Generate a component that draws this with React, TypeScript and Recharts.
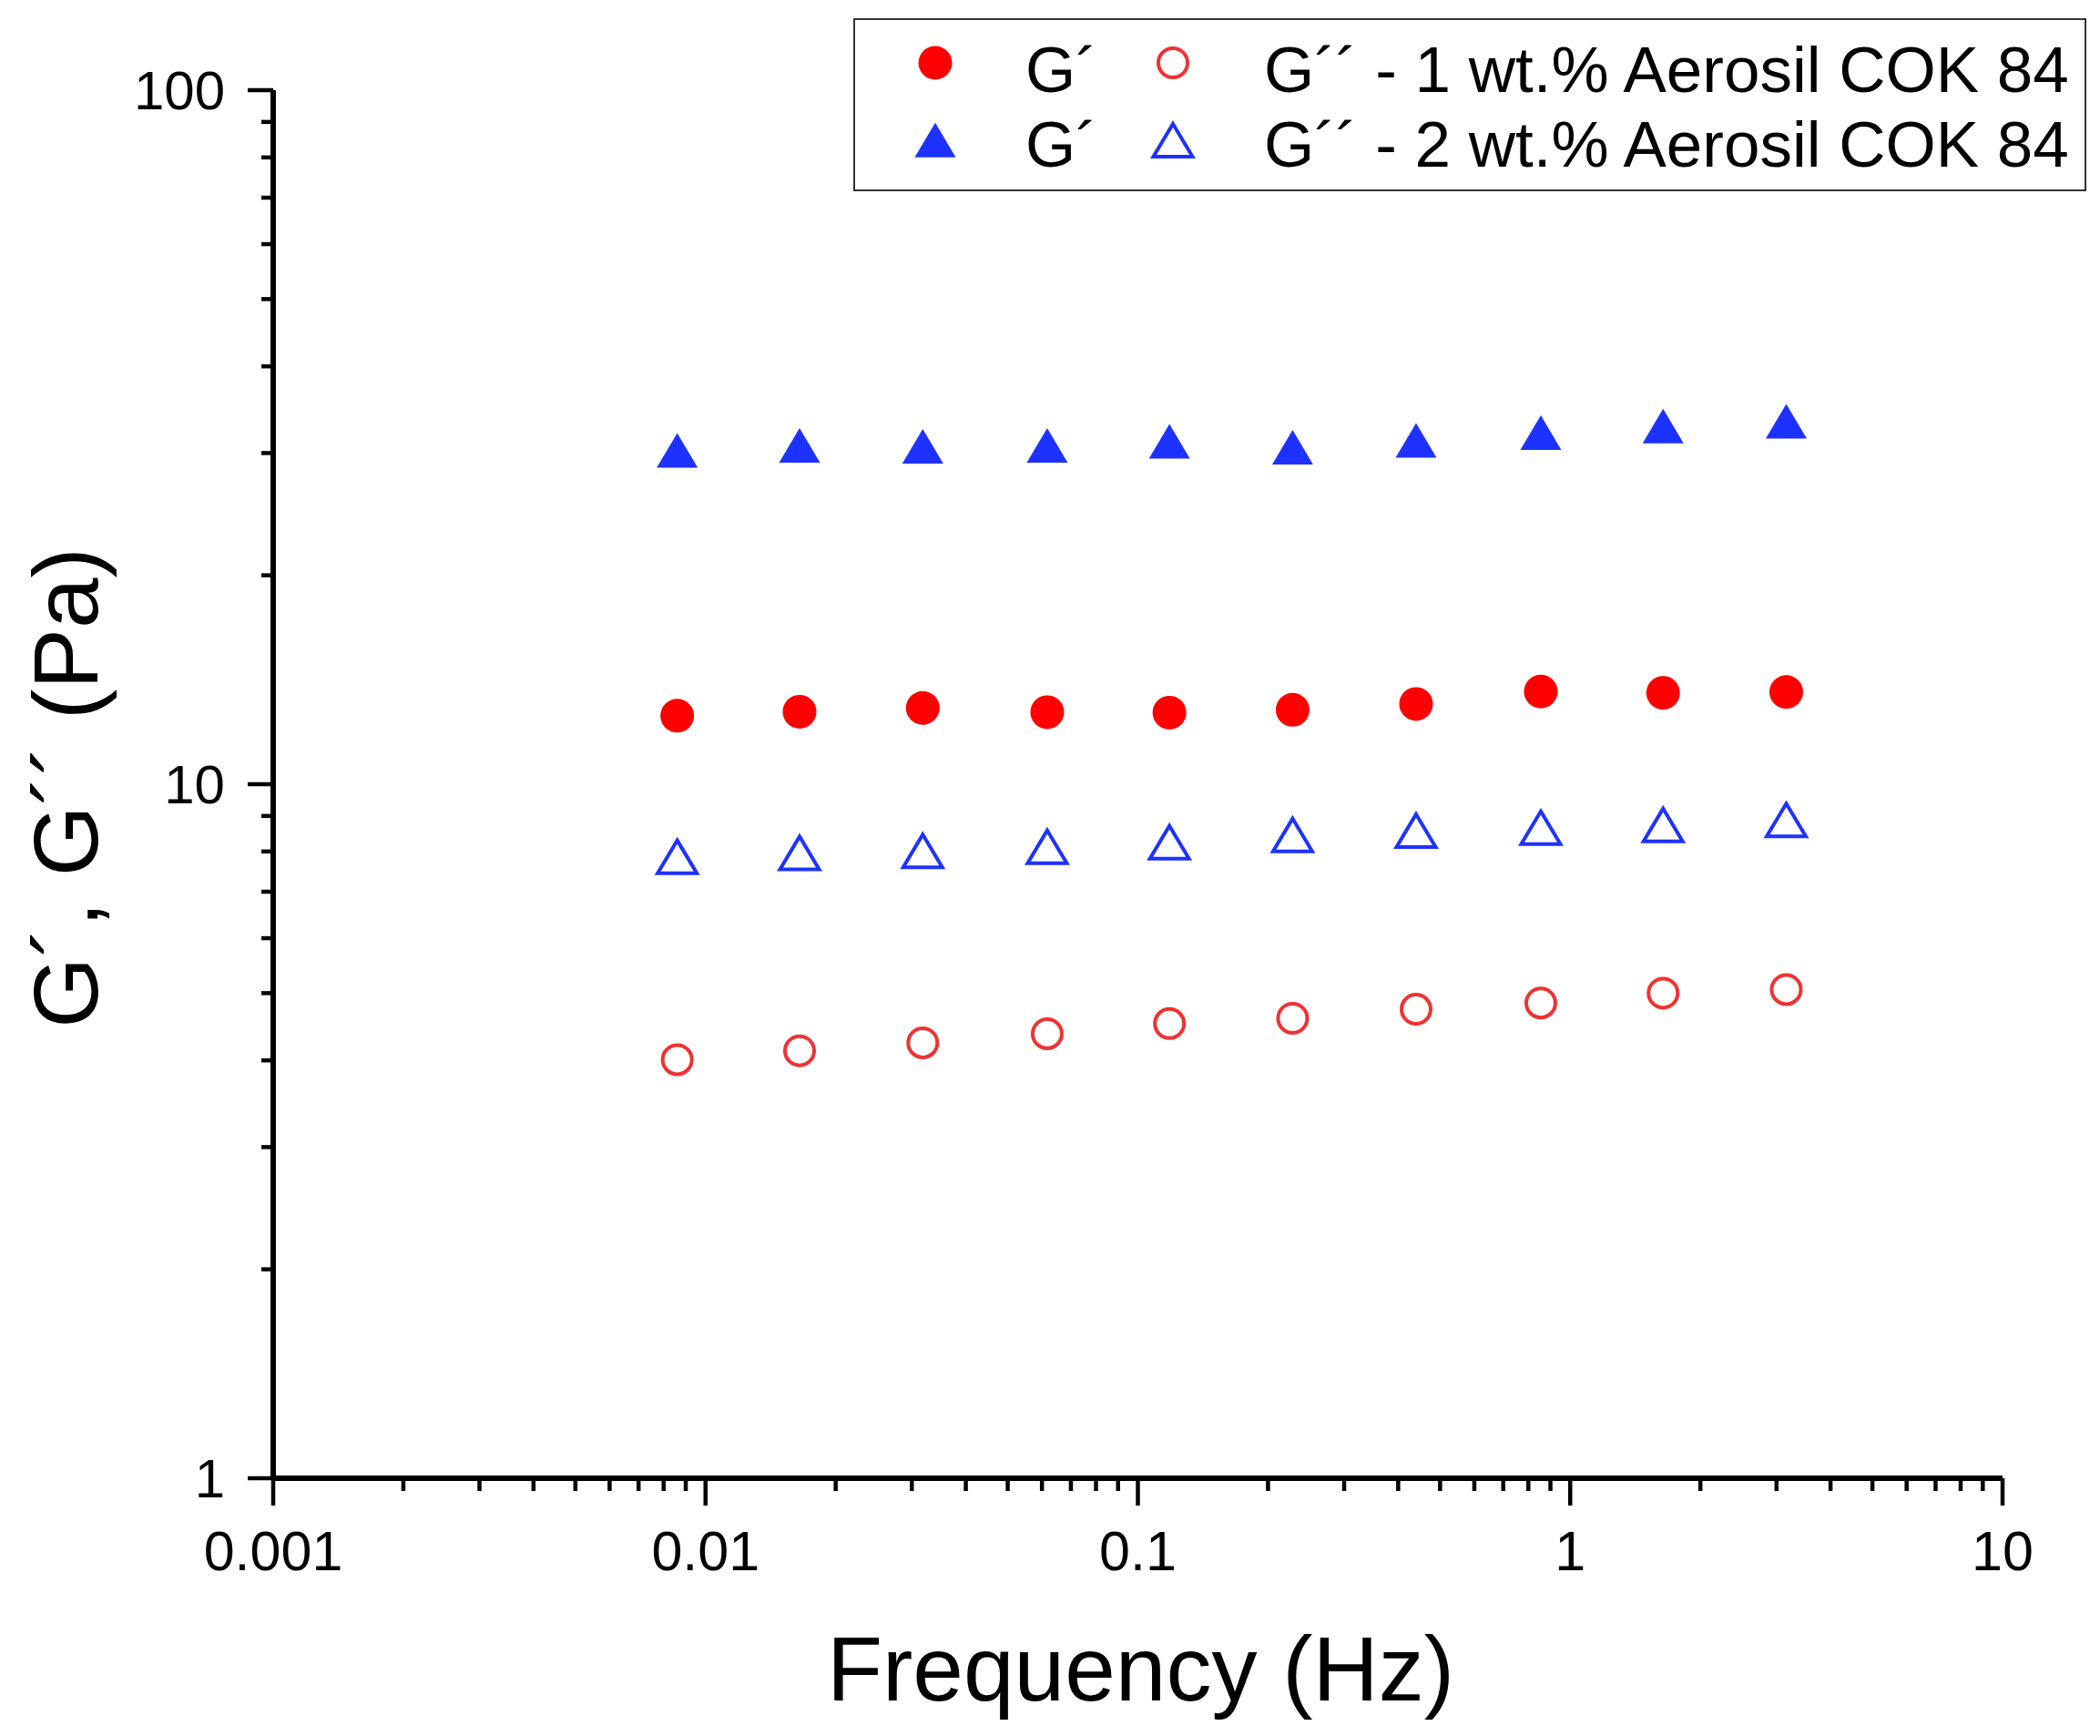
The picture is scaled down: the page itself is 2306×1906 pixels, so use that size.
import { Legend, Scatter, ScatterChart, XAxis, YAxis } from "recharts";

const FONT = "'Liberation Sans', Arial, sans-serif";
const RED = "#FF0000";
const RED_OPEN = "#F03232";
const BLUE = "#1E32FF";

// frequency (Hz)
const freq = [0.0086, 0.0165, 0.0318, 0.0617, 0.1183, 0.228, 0.44, 0.855, 1.64, 3.16];

// moduli (Pa)
const gPrime1 = [12.55, 12.72, 12.88, 12.7, 12.68, 12.8, 13.05, 13.6, 13.54, 13.58];
const gDouble1 = [4.01, 4.13, 4.24, 4.37, 4.52, 4.6, 4.74, 4.84, 5.0, 5.06];
const gPrime2 = [29.7, 30.2, 30.1, 30.2, 30.6, 30.0, 30.7, 31.5, 32.2, 32.7];
const gDouble2 = [7.72, 7.82, 7.87, 7.98, 8.1, 8.3, 8.42, 8.5, 8.58, 8.72];

const xMajor = [0.001, 0.01, 0.1, 1, 10];
const xMajorLabels = ["0.001", "0.01", "0.1", "1", "10"];
const yMajor = [1, 10, 100];
const yMajorLabels = ["1", "10", "100"];
const minorSteps = [2, 3, 4, 5, 6, 7, 8, 9];

const legendRows = ["1 wt.% Aerosil COK 84", "2 wt.% Aerosil COK 84"];

const withMinors = (majors: number[]) => [
  ...majors,
  ...majors.slice(0, -1).flatMap((d) => minorSteps.map((m) => d * m)),
].sort((a, b) => a - b);

const xTicks = withMinors(xMajor);
const yTicks = withMinors(yMajor);

const majorIndex = (majors: number[], v: number) =>
  majors.findIndex((m) => Math.abs(m - v) / m < 1e-6);

const toPoints = (vals: number[]) => freq.map((f, i) => ({ f, v: vals[i] }));

function XTick({ x, y, payload }: any) {
  const idx = majorIndex(xMajor, payload.value);
  const major = idx >= 0;
  return (
    <g>
      <line x1={x} y1={y} x2={x} y2={y + (major ? 30 : 14)} stroke="#000" strokeWidth={4.5} />
      {major && (
        <text x={x} y={y + 101} textAnchor="middle" fontSize={61} fontFamily={FONT} fill="#000">
          {xMajorLabels[idx]}
        </text>
      )}
    </g>
  );
}

function YTick({ x, y, payload }: any) {
  const idx = majorIndex(yMajor, payload.value);
  const major = idx >= 0;
  return (
    <g>
      <line x1={x - (major ? 28 : 13)} y1={y} x2={x} y2={y} stroke="#000" strokeWidth={4.5} />
      {major && (
        <text x={x - 53} y={y + 21} textAnchor="end" fontSize={60} fontFamily={FONT} fill="#000">
          {yMajorLabels[idx]}
        </text>
      )}
    </g>
  );
}

function Marker({ cx, cy, kind, color, open }: any) {
  if (cx == null || cy == null) return null;
  if (kind === "circle") {
    return open ? (
      <circle cx={cx} cy={cy} r={16} fill="none" stroke={color} strokeWidth={4} />
    ) : (
      <circle cx={cx} cy={cy} r={18.5} fill={color} />
    );
  }
  // triangle, centroid on the data point
  const h = open ? 36 : 38;
  const w = open ? 43 : 45;
  const d = `M${cx},${cy - (2 * h) / 3} L${cx + w / 2},${cy + h / 3} L${cx - w / 2},${cy + h / 3} Z`;
  return open ? (
    <path d={d} fill="none" stroke={color} strokeWidth={4} strokeLinejoin="miter" />
  ) : (
    <path d={d} fill={color} />
  );
}

function LegendBox() {
  const rows = [
    { kind: "circle", filled: RED, open: RED_OPEN, sym: 49, base: 81 },
    { kind: "triangle", filled: BLUE, open: BLUE, sym: 140, base: 163 },
  ];
  return (
    <svg width={1354} height={190} style={{ display: "block" }}>
      <rect x={1} y={1} width={1352} height={188} fill="#fff" stroke="#333" strokeWidth={2} />
      {rows.map((r, i) => (
        <g key={i}>
          <Marker cx={90} cy={r.sym} kind={r.kind} color={r.filled} />
          <text x={189} y={r.base} fontSize={71} fontFamily={FONT} fill="#000">
            G´
          </text>
          <Marker cx={351} cy={r.sym} kind={r.kind} color={r.open} open />
          <text x={451} y={r.base} fontSize={71} fontFamily={FONT} fill="#000">
            {`G´´ - ${legendRows[i]}`}
          </text>
        </g>
      ))}
    </svg>
  );
}

function YTitle({ viewBox }: any) {
  const cx = viewBox.x + 107;
  const cy = viewBox.y + viewBox.height / 2 + 4;
  return (
    <text
      x={cx}
      y={cy}
      transform={`rotate(-90 ${cx} ${cy})`}
      textAnchor="middle"
      fontSize={100}
      fontFamily={FONT}
      fill="#000"
    >
      G´, G´´ (Pa)
    </text>
  );
}

function XTitle({ viewBox }: any) {
  return (
    <text
      x={viewBox.x + viewBox.width / 2 + 3}
      y={viewBox.y + 244}
      textAnchor="middle"
      fontSize={100}
      fontFamily={FONT}
      fill="#000"
    >
      Frequency (Hz)
    </text>
  );
}

const series = [
  { name: "G´ 1", data: toPoints(gPrime1), kind: "circle", color: RED, open: false },
  { name: "G´´ 1", data: toPoints(gDouble1), kind: "circle", color: RED_OPEN, open: true },
  { name: "G´ 2", data: toPoints(gPrime2), kind: "triangle", color: BLUE, open: false },
  { name: "G´´ 2", data: toPoints(gDouble2), kind: "triangle", color: BLUE, open: true },
];

export default function App() {
  return (
    <div style={{ position: "absolute", left: 0, top: 0, width: 2306, height: 1906, background: "#fff" }}>
      <ScatterChart width={2306} height={1906} margin={{ top: 99, right: 107, bottom: 0, left: 0 }}>
        <XAxis
          dataKey="f"
          type="number"
          scale="log"
          domain={[0.001, 10]}
          allowDataOverflow
          ticks={xTicks}
          interval={0}
          tickLine={false}
          tickSize={0}
          tickMargin={0}
          tick={<XTick />}
          axisLine={{ stroke: "#000", strokeWidth: 6 }}
          height={283}
          label={<XTitle />}
        />
        <YAxis
          dataKey="v"
          type="number"
          scale="log"
          domain={[1, 100]}
          allowDataOverflow
          ticks={yTicks}
          interval={0}
          tickLine={false}
          tickSize={0}
          tickMargin={0}
          tick={<YTick />}
          axisLine={{ stroke: "#000", strokeWidth: 6 }}
          width={300}
          label={<YTitle />}
        />
        <Legend
          layout="vertical"
          align="center"
          verticalAlign="middle"
          content={() => <LegendBox />}
          wrapperStyle={{ position: "absolute", left: 937, top: 20, width: 1354, height: 190 }}
        />
        {series.map((s) => (
          <Scatter
            key={s.name}
            name={s.name}
            data={s.data}
            isAnimationActive={false}
            shape={(p: any) => <Marker cx={p.cx} cy={p.cy} kind={s.kind} color={s.color} open={s.open} />}
          />
        ))}
      </ScatterChart>
    </div>
  );
}
